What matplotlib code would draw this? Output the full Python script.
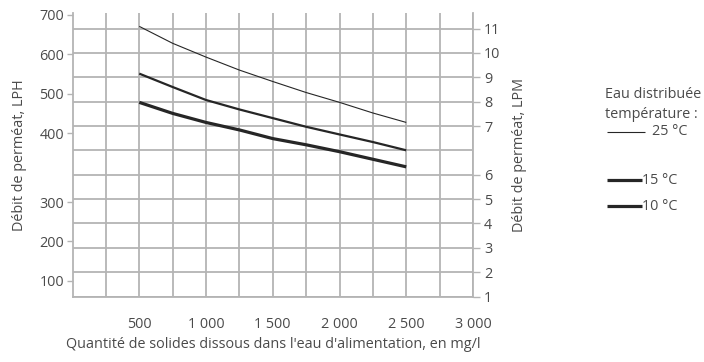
import numpy as np
import matplotlib
matplotlib.use("Agg")
import matplotlib.pyplot as plt
from matplotlib.lines import Line2D

plt.rcParams["font.family"] = ["Open Sans", "DejaVu Sans"]

# Feed water TDS (mg/l) and permeate flow (LPH) for each feed temperature
tds = [500, 750, 1000, 1250, 1500, 1750, 2000, 2250, 2500]
flow_25c = [671, 628, 593, 560, 531, 503, 478, 451, 427]
flow_15c = [551, 517, 484, 460, 438, 416, 398, 387, 375]
flow_10c = [478, 450, 427, 408, 392, 383, 373, 362, 351]

series_labels = ["25 °C", "15 °C", "10 °C"]

x_ticks = [500, 1000, 1500, 2000, 2500, 3000]
x_tick_labels = ["500", "1 000", "1 500", "2 000", "2 500", "3 000"]
lph_ticks = [100, 200, 300, 400, 500, 600, 700]
lpm_positions = [0, 1, 2, 3, 4, 5, 7, 8, 9, 10, 11]
lpm_labels = ["1", "2", "3", "4", "5", "6", "7", "8", "9", "10", "11"]

# Piecewise-linear LPH axis (the 300-400 span is stretched), expressed in grid rows
LPH_KNOTS = [0, 100, 300, 400, 700, 800]
ROW_KNOTS = [-0.98, 0.64, 3.88, 6.71, 11.56, 13.18]


def lph_to_row(v):
    return np.interp(v, LPH_KNOTS, ROW_KNOTS)


def row_to_lph(r):
    return np.interp(r, ROW_KNOTS, LPH_KNOTS)


TOP_ROW = 11.64
GRID_C = "#b4b4b4"
TEXT_C = "#4a4a4a"
LINE_C = "#262626"
FS = 10.4

fig = plt.figure(figsize=(7.04, 3.62), dpi=100)
ax = fig.add_axes([72.5 / 704, 1 - 296.5 / 362, (473 - 72.5) / 704, (296.5 - 13) / 362])

ax.set_yscale("function", functions=(lph_to_row, row_to_lph))
ax.set_ylim(row_to_lph(0), row_to_lph(TOP_ROW))
ax.set_xlim(0, 3000)

# grid: one horizontal line per row, vertical lines every 250 mg/l
ax.set_yticks(lph_ticks)
ax.set_yticklabels([str(v) for v in lph_ticks])
ax.set_yticks(row_to_lph(np.arange(12)), minor=True)
ax.set_xticks(x_ticks)
ax.set_xticklabels(x_tick_labels)
ax.set_xticks(np.arange(250, 3000, 250), minor=True)
ax.grid(False)
ax.yaxis.grid(True, which="minor", color=GRID_C, linewidth=1.3)
ax.xaxis.grid(True, which="both", color=GRID_C, linewidth=1.3)
ax.set_axisbelow(True)

ax.tick_params(axis="y", which="major", length=4, width=1, color=GRID_C,
               labelsize=FS, labelcolor=TEXT_C, pad=2)
ax.tick_params(axis="y", which="minor", length=0)
ax.tick_params(axis="x", which="both", length=0, labelsize=FS,
               labelcolor=TEXT_C, pad=15)

for side in ("top", "right"):
    ax.spines[side].set_visible(False)
for side in ("left", "bottom"):
    ax.spines[side].set_color(GRID_C)
    ax.spines[side].set_linewidth(1.3)

ax.plot(tds, flow_25c, color=LINE_C, linewidth=0.8, solid_capstyle="butt")
ax.plot(tds, flow_15c, color=LINE_C, linewidth=1.6, solid_capstyle="butt")
ax.plot(tds, flow_10c, color=LINE_C, linewidth=2.3, solid_capstyle="butt")

ax.set_ylabel("Débit de perméat, LPH", fontsize=FS, color=TEXT_C, labelpad=9)
ax.set_xlabel("Quantité de solides dissous dans l'eau d'alimentation, en mg/l",
              fontsize=FS, color=TEXT_C, labelpad=3)

# right-hand LPM scale
ax2 = ax.twinx()
ax2.set_ylim(0, TOP_ROW)
ax2.set_yticks(lpm_positions)
ax2.set_yticklabels(lpm_labels)
ax2.tick_params(axis="y", length=5, width=1, color=GRID_C, labelsize=FS,
                labelcolor=TEXT_C, pad=3)
for side in ("top", "left", "bottom"):
    ax2.spines[side].set_visible(False)
ax2.spines["right"].set_color(GRID_C)
ax2.spines["right"].set_linewidth(1.3)
ax2.set_ylabel("Débit de perméat, LPM", fontsize=FS, color=TEXT_C, labelpad=8)

# legend block
W, H = 704, 362


def fx(px):
    return px / W


def fy(py):
    return 1 - py / H


fig.text(fx(605), fy(95), "Eau distribuée", fontsize=FS, color=TEXT_C, va="center")
fig.text(fx(605), fy(114), "température :", fontsize=FS, color=TEXT_C, va="center")
legend_rows = [(132, 0.8, 645, 652), (180, 2.3, 642, 642), (206, 2.3, 642, 642)]
for (py, lw, x_end, tx), label in zip(legend_rows, series_labels):
    fig.add_artist(Line2D([fx(607), fx(x_end)], [fy(py), fy(py)], color=LINE_C,
                          linewidth=lw, solid_capstyle="butt"))
    fig.text(fx(tx), fy(py), label, fontsize=FS, color=TEXT_C, va="center")

fig.savefig("out.png", dpi=100)
